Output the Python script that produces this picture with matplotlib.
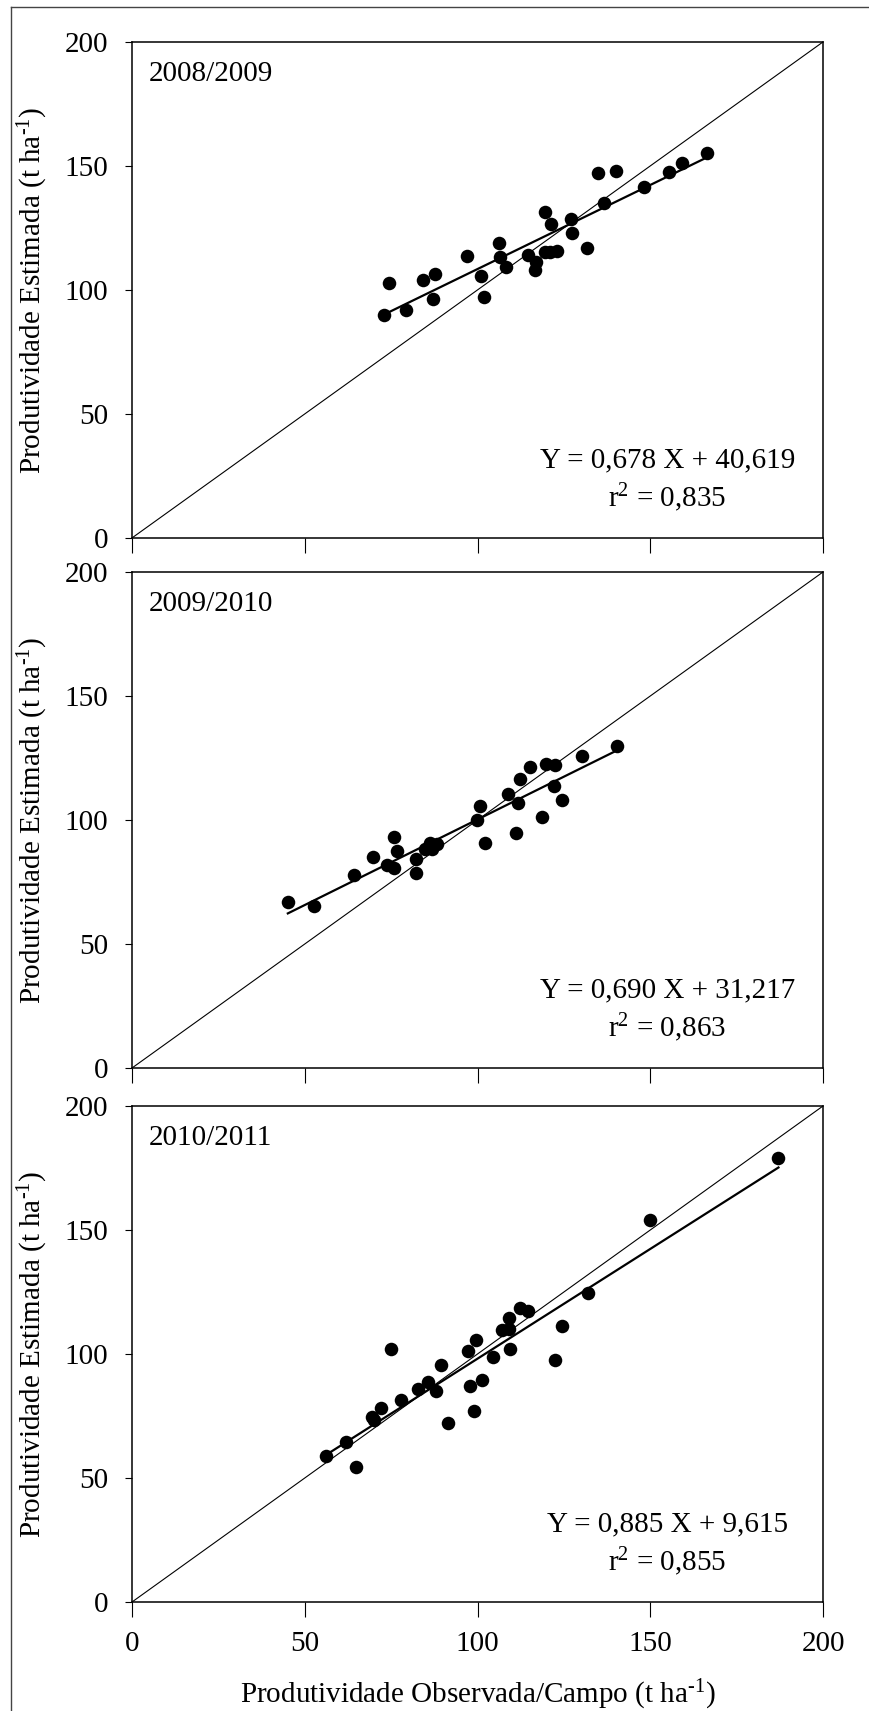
import matplotlib
matplotlib.use("Agg")
import matplotlib.pyplot as plt
from matplotlib.lines import Line2D

plt.rcParams["font.family"] = ["Liberation Serif", "DejaVu Serif"]
plt.rcParams["mathtext.fontset"] = "custom"
plt.rcParams["mathtext.rm"] = "Liberation Serif"
plt.rcParams["mathtext.it"] = "Liberation Serif:italic"

obs_0809 = [72.9, 74.5, 79.3, 84.1, 87.8, 87.0, 97.0, 101.1, 101.9, 106.1,
            106.6, 108.3, 114.5, 117.0, 116.5, 119.4, 119.4, 121.0, 121.4, 123.1,
            127.0, 127.3, 131.7, 135.0, 140.2, 136.7, 148.3, 155.3, 159.3, 166.5]
est_0809 = [89.8, 102.6, 91.8, 103.9, 106.6, 96.5, 113.7, 105.5, 97.0, 119.0,
            113.1, 109.1, 114.0, 111.2, 108.2, 131.3, 115.1, 115.3, 126.7, 115.7,
            128.8, 122.9, 116.9, 147.3, 148.0, 135.0, 141.6, 147.7, 151.2, 155.3]

obs_0910 = [45.1, 52.8, 64.3, 69.7, 73.7, 75.7, 75.7, 76.6, 82.1, 82.1,
            84.7, 86.3, 86.9, 88.4, 99.9, 100.7, 102.1, 108.7, 111.0, 111.7,
            112.4, 115.2, 118.6, 119.9, 122.1, 122.3, 124.4, 130.1, 140.4]
est_0910 = [66.8, 65.3, 77.9, 84.9, 81.8, 80.8, 93.0, 87.5, 84.1, 78.5,
            88.5, 90.7, 88.5, 90.4, 100.0, 105.8, 90.7, 110.5, 94.8, 107.0,
            116.4, 121.4, 101.1, 122.7, 113.9, 122.0, 107.9, 125.7, 129.7]

obs_1011 = [56.2, 61.8, 64.7, 69.4, 69.9, 72.1, 75.0, 77.8, 82.9, 85.8,
            88.0, 89.3, 91.5, 97.3, 97.7, 99.0, 99.7, 101.3, 104.6, 107.2,
            109.1, 109.1, 109.4, 112.2, 114.6, 122.5, 124.4, 132.0, 149.8, 187.1]
est_1011 = [59.0, 64.7, 54.4, 74.6, 73.2, 78.2, 102.2, 81.3, 85.8, 88.9,
            84.9, 95.4, 72.0, 101.3, 87.0, 77.1, 105.7, 89.7, 98.6, 109.8,
            110.2, 114.5, 102.2, 118.5, 117.5, 97.4, 111.3, 124.6, 153.9, 179.1]

seasons = ["2008/2009", "2009/2010", "2010/2011"]
slopes = [0.678, 0.690, 0.885]
intercepts = [40.619, 31.217, 9.615]
eq_labels = ["Y = 0,678 X + 40,619", "Y = 0,690 X + 31,217", "Y = 0,885 X + 9,615"]
r2_labels = ["0,835", "0,863", "0,855"]
ticks = [0, 50, 100, 150, 200]

panels = [(obs_0809, est_0809), (obs_0910, est_0910), (obs_1011, est_1011)]

fig = plt.figure(figsize=(8.69, 17.11), dpi=100)

# outer frame (only left and top edges are visible in the original)
fig.add_artist(Line2D([11 / 869, 11 / 869], [0, 1 - 7 / 1711], transform=fig.transFigure,
                      color="#444444", lw=1.0))
fig.add_artist(Line2D([11 / 869, 1], [1 - 7 / 1711, 1 - 7 / 1711], transform=fig.transFigure,
                      color="#444444", lw=1.0))

bottoms = [0.6856, 0.3758, 0.0637]
left, width, height = 0.1519, 0.7952, 0.2899
unit = r"(t ha$^{\text{-1}}$)"

for i, (xs, ys) in enumerate(panels):
    ax = fig.add_axes([left, bottoms[i], width, height])
    ax.set_xlim(0, 200)
    ax.set_ylim(0, 200)
    ax.plot([0, 200], [0, 200], color="black", lw=0.8)
    x0, x1 = min(xs), max(xs)
    ax.plot([x0, x1], [slopes[i] * x0 + intercepts[i], slopes[i] * x1 + intercepts[i]],
            color="black", lw=1.6)
    ax.scatter(xs, ys, s=95, color="black", zorder=3, linewidths=0)

    ax.set_xticks(ticks)
    ax.set_yticks(ticks)
    ax.tick_params(axis="y", direction="out", length=5, width=0.8, pad=12, labelsize=21)
    ax.tick_params(axis="x", direction="out", length=11, width=0.8, pad=10, labelsize=21)
    if i < 2:
        ax.tick_params(axis="x", labelbottom=False)
    for sp in ax.spines.values():
        sp.set_linewidth(1.1)

    ax.set_ylabel("Produtividade Estimada " + unit, fontsize=21, va="center")
    ax.yaxis.set_label_coords(-0.1433, 0.5)

    ax.text(0.024, 0.936, seasons[i], transform=ax.transAxes, fontsize=21,
            ha="left", va="center")
    ax.text(0.775, 0.157, eq_labels[i], transform=ax.transAxes, fontsize=21,
            ha="center", va="center")
    ax.text(0.775, 0.082, r"r$^{\text{2}}$ = " + r2_labels[i], transform=ax.transAxes,
            fontsize=21, ha="center", va="center")

    if i == 2:
        ax.set_xlabel("Produtividade Observada/Campo " + unit, fontsize=21, va="center")
        ax.xaxis.set_label_coords(0.5, -0.1875)

fig.savefig("out.png", dpi=100)
